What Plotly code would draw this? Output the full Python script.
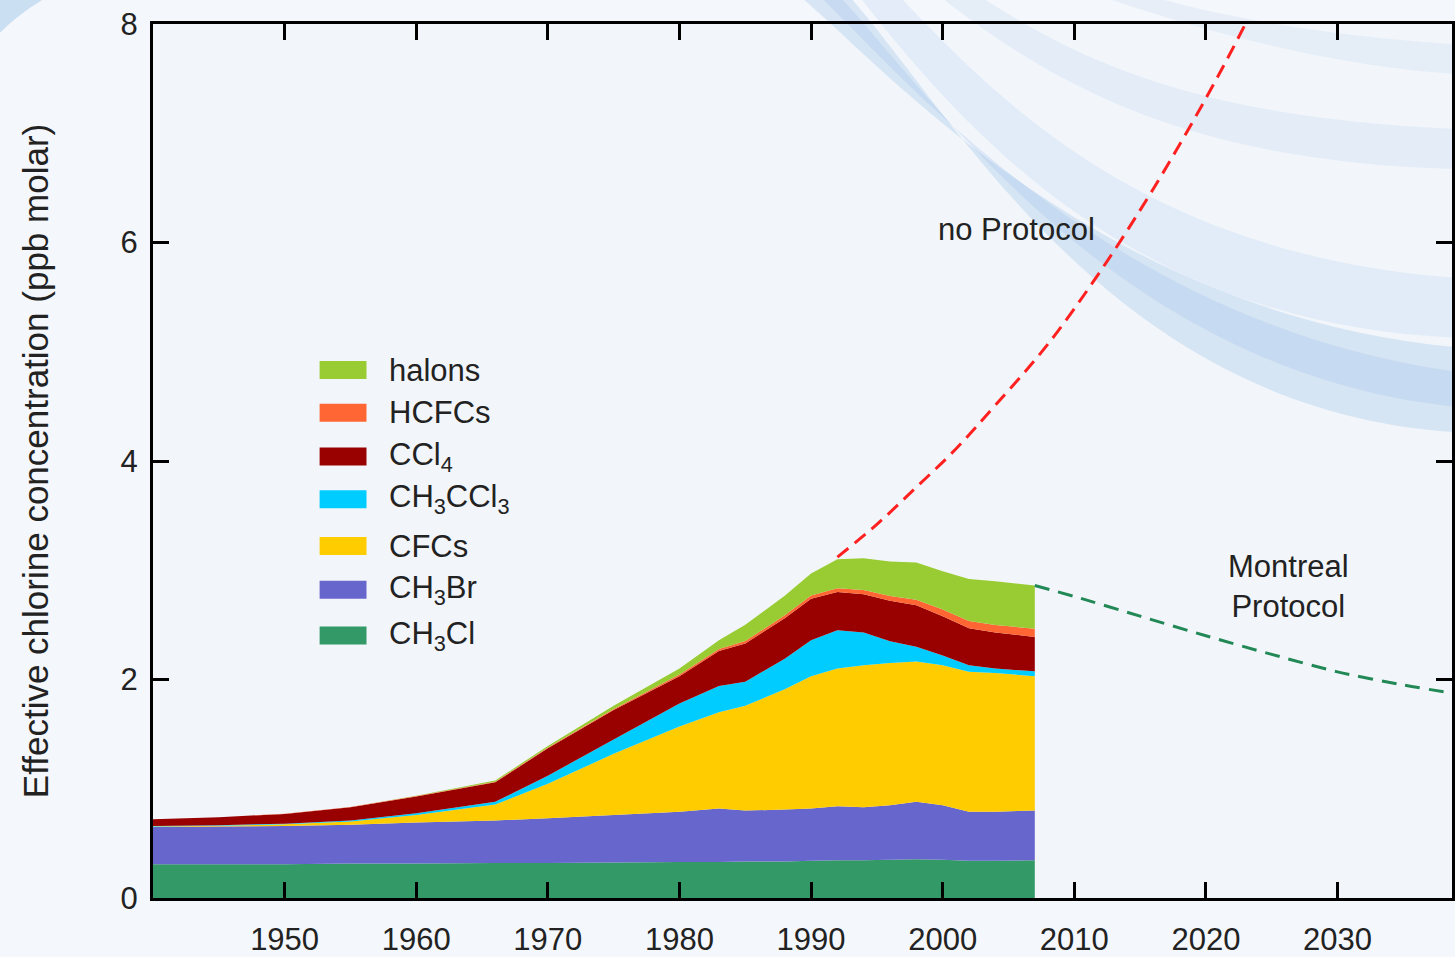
import numpy as np
import plotly.graph_objects as go

# ---------------- data ----------------
years = [1940, 1945, 1950, 1955, 1960, 1966, 1970, 1975, 1980, 1983, 1985,
         1988, 1990, 1992, 1994, 1996, 1998, 2000, 2002, 2004, 2007]

ch3cl   = [.31, .31, .31, .315, .315, .32, .32, .325, .33, .33, .335,
           .335, .34, .345, .345, .35, .355, .35, .34, .34, .345]
ch3br   = [.34, .345, .35, .355, .375, .39, .41, .435, .46, .49, .465,
           .475, .48, .495, .485, .50, .525, .50, .45, .45, .455]
cfcs    = [.005, .007, .015, .03, .07, .145, .315, .56, .78, .88, .96,
           1.10, 1.21, 1.26, 1.30, 1.30, 1.285, 1.28, 1.28, 1.27, 1.23]
ch3ccl3 = [.005, .005, .005, .01, .015, .025, .075, .13, .21, .24, .22,
           .28, .33, .35, .30, .20, .135, .09, .06, .04, .045]
ccl4    = [.06, .073, .09, .12, .155, .18, .25, .27, .25, .32, .35,
           .37, .38, .35, .35, .37, .38, .36, .34, .33, .315]
hcfcs   = [0, 0, .001, .002, .003, .005, .007, .01, .015, .02, .022,
           .027, .03, .035, .04, .045, .05, .06, .065, .07, .075]
halons  = [0, 0, .001, .002, .004, .01, .015, .03, .055, .08, .15,
           .18, .20, .265, .29, .315, .34, .35, .385, .40, .395]

noprot_years = [1992, 1995, 1998, 2001, 2004, 2008, 2012, 2016, 2020, 2023, 2025]
noprot_vals  = [3.12, 3.42, 3.76, 4.11, 4.51, 5.07, 5.74, 6.49, 7.32, 8.00, 8.50]

mp_years = [2007, 2010, 2015, 2020, 2025, 2030, 2035, 2040]
mp_vals  = [2.86, 2.76, 2.58, 2.40, 2.23, 2.07, 1.95, 1.85]

xtick_vals = [1950, 1960, 1970, 1980, 1990, 2000, 2010, 2020, 2030]
ytick_vals = [0, 2, 4, 6, 8]

layers = [
    ("CH<sub>3</sub>Cl", ch3cl, "#339966"),
    ("CH<sub>3</sub>Br", ch3br, "#6666cc"),
    ("CFCs", cfcs, "#ffcc00"),
    ("CH<sub>3</sub>CCl<sub>3</sub>", ch3ccl3, "#00ccff"),
    ("CCl<sub>4</sub>", ccl4, "#990000"),
    ("HCFCs", hcfcs, "#ff6633"),
    ("halons", halons, "#99cc33"),
]

# ---------------- figure ----------------
W, H = 1455, 957
L, R, T, B = 153, 0, 24, 54
FONT = "Liberation Sans, Arial, sans-serif"
TXT = "#222222"

fig = go.Figure()
for name, vals, col in layers:
    fig.add_trace(go.Scatter(
        x=years, y=vals, name=name, stackgroup="one", mode="none",
        fillcolor=col, line=dict(width=0), showlegend=False,
        hoverinfo="x+y+name"))

fig.add_trace(go.Scatter(x=noprot_years, y=noprot_vals, mode="lines",
                         line=dict(color="#ff2020", width=3, dash="14px,8px",
                                   shape="spline", smoothing=1.0),
                         showlegend=False, name="no Protocol"))
fig.add_trace(go.Scatter(x=mp_years, y=mp_vals, mode="lines",
                         line=dict(color="#228855", width=3, dash="15px,9px",
                                   shape="spline", smoothing=0.8),
                         showlegend=False, name="Montreal Protocol"))


def px2paper(x, y):
    return (x - L) / (W - L - R), (H - B - y) / (H - T - B)


def path(pts):
    out = []
    for cmd, coords in pts:
        s = cmd
        for (x, y) in coords:
            px, py = px2paper(x, y)
            s += f" {px:.4f},{py:.4f}"
        out.append(s)
    return " ".join(out) + " Z"


shapes = []
# decorative background swooshes (not data)
swooshes = [
    ([("M", [(900, -5)]), ("C", [(1000, 100), (1150, 260), (1470, 280)]),
      ("L", [(1470, 340)]), ("C", [(1150, 330), (980, 150), (860, -5)])],
     "rgba(170,200,235,0.22)"),
    ([("M", [(980, -5)]), ("C", [(1080, 60), (1200, 120), (1470, 130)]),
      ("L", [(1470, 170)]), ("C", [(1200, 165), (1060, 90), (940, -5)])],
     "rgba(170,200,235,0.20)"),
    ([("M", [(1150, -5)]), ("C", [(1250, 25), (1380, 40), (1470, 45)]),
      ("L", [(1470, 75)]), ("C", [(1360, 70), (1230, 40), (1100, -5)])],
     "rgba(170,200,235,0.18)"),
    ([("M", [(800, -5)]), ("C", [(880, 60), (1100, 320), (1470, 350)]),
      ("L", [(1470, 435)]), ("C", [(1120, 420), (960, 120), (850, -5)])],
     "rgba(150,188,230,0.30)"),
    ([("M", [(820, -5)]), ("C", [(900, 70), (1110, 330), (1470, 375)]),
      ("L", [(1470, 410)]), ("C", [(1120, 380), (930, 90), (840, -5)])],
     "rgba(150,188,230,0.25)"),
    ([("M", [(-5, -5)]), ("L", [(50, -5)]), ("Q", [(15, 15), (-5, 38)])],
     "rgba(185,212,240,0.7)"),
]
for pts, col in swooshes:
    shapes.append(dict(type="path", xref="paper", yref="paper", path=path(pts),
                       fillcolor=col, line=dict(width=0), layer="below"))

# manual legend (top to bottom)
legend_rows = layers[::-1]
row_y = [372, 415, 459, 502, 549, 593, 639]
annotations = []
for (name, _, col), yy in zip(legend_rows, row_y):
    x0, y0 = px2paper(320, yy - 9)
    x1, y1 = px2paper(367, yy + 9)
    shapes.append(dict(type="rect", xref="paper", yref="paper",
                       x0=x0, x1=x1, y0=y1, y1=y0, fillcolor=col,
                       line=dict(width=0), layer="above"))
    tx, ty = px2paper(388, yy)
    annotations.append(dict(x=tx, y=ty, xref="paper", yref="paper", text=name,
                            showarrow=False, xanchor="left", yanchor="middle",
                            font=dict(family=FONT, size=31, color=TXT)))

annotations.append(dict(x=2005.6, y=6.12, text="no Protocol", showarrow=False,
                        font=dict(family=FONT, size=31, color=TXT)))
annotations.append(dict(x=2026.3, y=2.85, text="Montreal<br>Protocol",
                        showarrow=False,
                        font=dict(family=FONT, size=31, color=TXT)))

axis_common = dict(showline=True, linecolor="black", linewidth=3,
                   mirror="ticks", ticks="inside", ticklen=16, tickwidth=2.5,
                   tickcolor="black", showgrid=False, zeroline=False,
                   tickfont=dict(family=FONT, size=31, color=TXT))

fig.update_layout(
    width=W, height=H,
    margin=dict(l=L, r=R, t=T, b=B, pad=0),
    paper_bgcolor="#f4f7fb",
    plot_bgcolor="#f2f6fb",
    xaxis=dict(range=[1940, 2038.7], tickvals=xtick_vals,
               ticklabelstandoff=12, **axis_common),
    yaxis=dict(range=[0, 8], tickvals=ytick_vals, ticklabelstandoff=6,
               title=dict(text="Effective chlorine concentration (ppb molar)",
                          font=dict(family=FONT, size=35, color=TXT),
                          standoff=62),
               **axis_common),
    shapes=shapes,
    annotations=annotations,
    showlegend=False,
)

fig.write_html("out.html",
               config={"displayModeBar": False},
               post_script="document.body.style.margin='0';"
                           "document.body.style.overflow='hidden';")
